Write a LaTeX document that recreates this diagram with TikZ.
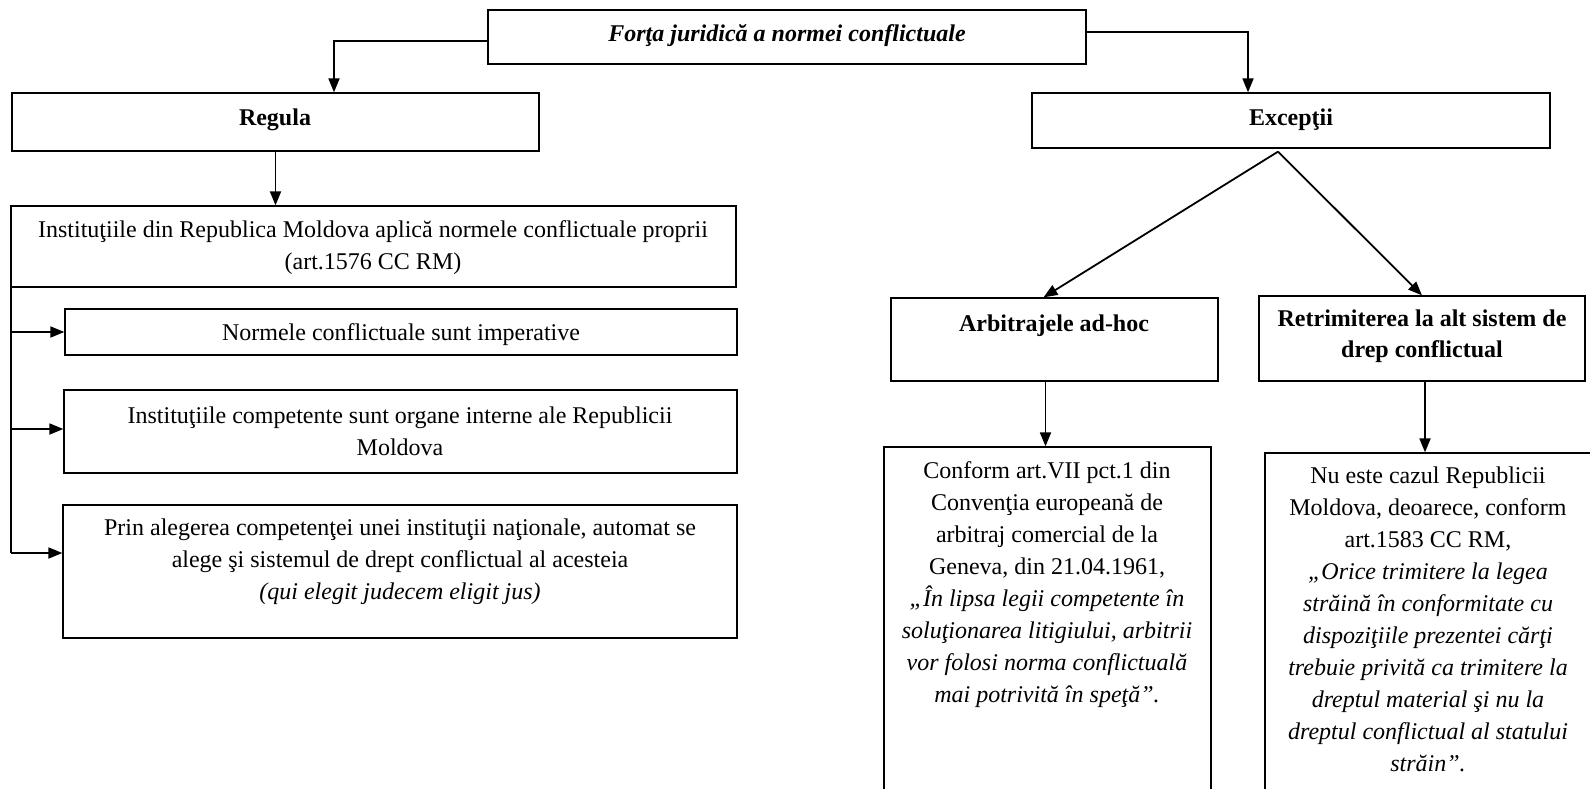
\documentclass[tikz,border=0pt]{standalone}
\usepackage{fontspec}
\setmainfont{Liberation Serif}
\usetikzlibrary{arrows.meta}
\begin{document}
\begin{tikzpicture}[x=1pt,y=-1pt,
  box/.style={draw, line width=1.3pt, inner sep=0pt, rectangle},
  txt/.style={inner sep=0pt, align=center, font=\fontsize{24}{32}\selectfont},
  boldtxt/.style={inner sep=0pt, align=center, font=\fontsize{24}{31}\selectfont\bfseries},
  conn/.style={line width=1.8pt, -{Triangle[length=14pt,width=11pt]}},
  plainline/.style={line width=1.8pt},
]
\useasboundingbox (0,0) rectangle (1590,788);
\clip (0,0) rectangle (1590,788);

% boxes
\node[box, minimum width=598pt, minimum height=54pt] (title) at (787,37) {};
\node[box, minimum width=527pt, minimum height=58pt] (regula) at (275.5,122) {};
\node[box, minimum width=725pt, minimum height=81pt] (inst) at (373.5,246.5) {};
\node[box, minimum width=672pt, minimum height=46pt] (norm) at (401,332) {};
\node[box, minimum width=673pt, minimum height=83pt] (comp) at (400.5,431.5) {};
\node[box, minimum width=674pt, minimum height=133pt] (prin) at (400,571.5) {};
\node[box, minimum width=518pt, minimum height=55pt] (exc) at (1291,120.5) {};
\node[box, minimum width=327pt, minimum height=83pt] (arb) at (1054.5,339.5) {};
\node[box, minimum width=326pt, minimum height=85pt] (retr) at (1422,338.5) {};
\node[box, minimum width=327pt, minimum height=363pt] (conf) at (1047.5,628.5) {};
\node[box, minimum width=335pt, minimum height=357pt] (nu) at (1432.5,631.5) {};

% texts
\node[boldtxt, font=\fontsize{24}{31}\selectfont\bfseries\itshape] (titleT) at (787,35.5) {Forţa juridică a normei conflictuale};
\node[boldtxt] (regulaT) at (275,119.5) {Regula};
\node[txt] (instT) at (373,248) {Instituţiile din Republica Moldova aplică normele conflictuale proprii\\(art.1576 CC RM)};
\node[txt] (normT) at (401,335) {Normele conflictuale sunt imperative};
\node[txt] (compT) at (400,431) {Instituţiile competente sunt organe interne ale Republicii\\Moldova};
\node[txt] (prinT) at (400,562) {Prin alegerea competenţei unei instituţii naţionale, automat se\\alege şi sistemul de drept conflictual al acesteia\\\textit{(qui elegit judecem eligit jus)}};
\node[boldtxt] (excT) at (1291,119.5) {Excepţii};
\node[boldtxt] (arbT) at (1054,325.5) {Arbitrajele ad-hoc};
\node[boldtxt] (retrT) at (1422,336.5) {Retrimiterea la alt sistem de\\drep conflictual};
\node[txt] (confT) at (1047,584.5) {Conform art.VII pct.1 din\\Convenţia europeană de\\arbitraj comercial de la\\Geneva, din 21.04.1961,\\\textit{„În lipsa legii competente în}\\\textit{soluţionarea litigiului, arbitrii}\\\textit{vor folosi norma conflictuală}\\\textit{mai potrivită în speţă”.}};
\node[txt] (nuT) at (1428,619.5) {Nu este cazul Republicii\\Moldova, deoarece, conform\\art.1583 CC RM,\\\textit{„Orice trimitere la legea}\\\textit{străină în conformitate cu}\\\textit{dispoziţiile prezentei cărţi}\\\textit{trebuie privită ca trimitere la}\\\textit{dreptul material şi nu la}\\\textit{dreptul conflictual al statului}\\\textit{străin”.}};

% connectors
\draw[conn] ([yshift=-4pt]title.west) -| ([xshift=58.5pt]regula.north);
\draw[conn] ([yshift=5pt]title.east) -| ([xshift=-43pt]exc.north);
\draw[conn] (regula.south) -- (regula.south |- inst.north);

\coordinate (bustop) at (11,278);
\coordinate (busbot) at (11,553);
\draw[plainline] (bustop) -- (busbot);
\draw[conn] (bustop |- norm.west) -- (norm.west);
\draw[conn] ([yshift=2.5pt]bustop |- comp.west) -- ([yshift=2.5pt]comp.west);
\draw[conn] (busbot) -- (busbot -| prin.west);

\coordinate (apex) at ([xshift=-13pt,yshift=-3pt]exc.south);
\draw[conn] (apex) -- ([xshift=-11pt]arb.north);
\draw[conn] (apex) -- (retr.north);

\draw[conn] ([xshift=-9pt]arb.south) -- ([xshift=-9pt]arb.south |- conf.north);
\draw[conn] ([xshift=3pt]retr.south) -- ([xshift=3pt]retr.south |- nu.north);
\end{tikzpicture}
\end{document}
